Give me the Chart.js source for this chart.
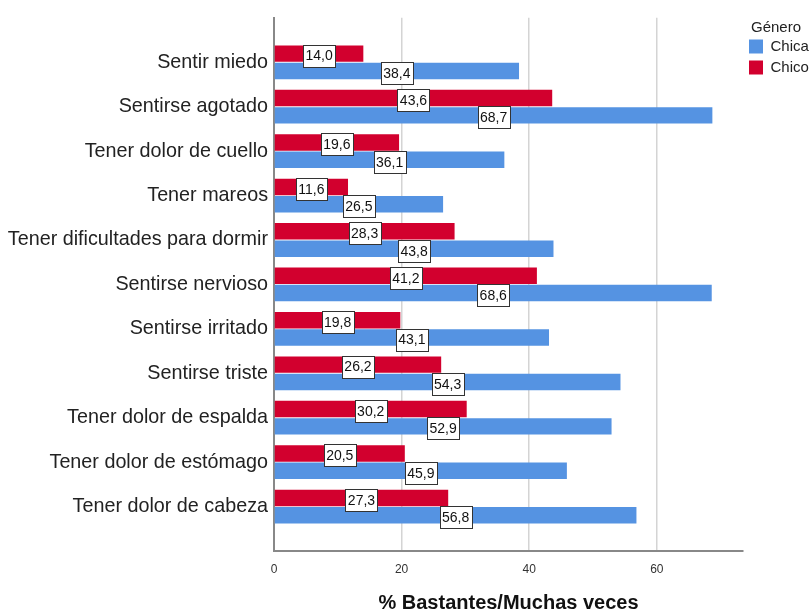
<!DOCTYPE html>
<html>
<head>
<meta charset="utf-8">
<script src="https://cdn.jsdelivr.net/npm/chart.js@4/dist/chart.umd.min.js"></script>
<style>
  body { margin: 0; background: #fff; }
  #wrap { width: 809px; height: 613px; }
</style>
</head>
<body>
<div id="wrap"><canvas id="myChart"></canvas></div>
<script>
const itemLabels = ['Sentir miedo', 'Sentirse agotado', 'Tener dolor de cuello', 'Tener mareos',
    'Tener dificultades para dormir', 'Sentirse nervioso', 'Sentirse irritado', 'Sentirse triste',
    'Tener dolor de espalda', 'Tener dolor de estómago', 'Tener dolor de cabeza']
const chicoValues = [14.0, 43.6, 19.6, 11.6, 28.3, 41.2, 19.8, 26.2, 30.2, 20.5, 27.3]
const chicaValues = [38.4, 68.7, 36.1, 26.5, 43.8, 68.6, 43.1, 54.3, 52.9, 45.9, 56.8]
const xTicks = [0, 20, 40, 60]

const FONT = "'Liberation Sans', Arial, sans-serif"

// white boxes with the value, centred on each bar
const valueBoxes = {
    id: 'valueBoxes',
    afterDatasetsDraw(chart) {
        const ctx = chart.ctx
        ctx.save()
        ctx.font = '14px ' + FONT
        ctx.textAlign = 'center'
        ctx.textBaseline = 'middle'
        chart.data.datasets.forEach((ds, di) => {
            chart.getDatasetMeta(di).data.forEach((bar, i) => {
                const txt = ds.data[i].x.toFixed(1).replace('.', ',')
                const w = Math.round(ctx.measureText(txt).width + 5)
                const h = 22
                const cx = (bar.base + bar.x) / 2
                const cy = bar.y + 2
                const x0 = Math.round(cx - w / 2) + 0.5
                const y0 = Math.round(cy - h / 2) + 0.5
                ctx.fillStyle = '#ffffff'
                ctx.fillRect(x0, y0, w, h)
                ctx.strokeStyle = '#333333'
                ctx.lineWidth = 1
                ctx.strokeRect(x0, y0, w, h)
                ctx.fillStyle = '#111111'
                ctx.fillText(txt, cx, cy + 1)
            })
        })
        ctx.restore()
    }
}

function drawChart() {
    const ctx = document.getElementById('myChart')

    const data = {
        datasets: [{
            label: 'Chico',
            data: chicoValues.map((v, i) => ({x: v, y: i})),
            backgroundColor: '#d2002e',
            borderWidth: 0,
            categoryPercentage: 0.78,
            barPercentage: 0.95
        }, {
            label: 'Chica',
            data: chicaValues.map((v, i) => ({x: v, y: i})),
            backgroundColor: '#5593e2',
            borderWidth: 0,
            categoryPercentage: 0.78,
            barPercentage: 0.95
        }]
    }

    const config = {
        type: 'bar',
        data: data,
        plugins: [valueBoxes],
        options: {
            indexAxis: 'y',
            responsive: true,
            maintainAspectRatio: false,
            animation: false,
            layout: {padding: {top: 14, left: 0, right: 0, bottom: 0}},
            plugins: {
                tooltip: {enabled: false},
                legend: {
                    position: 'right',
                    align: 'start',
                    reverse: true,
                    maxWidth: 66,
                    title: {display: true, text: 'Género', color: '#222',
                        font: {family: FONT, size: 15, lineHeight: 1}, padding: {top: 6, bottom: -2}},
                    labels: {boxWidth: 14, boxHeight: 14, padding: 6, color: '#222', font: {family: FONT, size: 15}}
                }
            },
            scales: {
                x: {
                    type: 'linear',
                    min: 0,
                    max: 73.5,
                    afterBuildTicks: (s) => { s.ticks = xTicks.map(v => ({value: v})) },
                    afterFit: (s) => { s.height = 62 },
                    grid: {color: '#d4d4d4', lineWidth: 1.5, drawTicks: false},
                    border: {display: true, color: '#888', width: 2},
                    ticks: {color: '#333', font: {family: FONT, size: 12}, padding: 11},
                    title: {display: true, text: '% Bastantes/Muchas veces', color: '#111',
                        font: {family: FONT, size: 20, weight: 'bold', lineHeight: 1}, padding: {top: 14, bottom: 0}}
                },
                y: {
                    type: 'linear',
                    min: -1,
                    max: 11,
                    offset: false,
                    reverse: true,
                    afterBuildTicks: (s) => { s.ticks = itemLabels.map((l, i) => ({value: i})) },
                    afterFit: (s) => { s.width = 274 },
                    grid: {display: false, drawTicks: false},
                    border: {display: true, color: '#888', width: 2},
                    ticks: {
                        color: '#222',
                        font: {family: FONT, size: 19.75},
                        padding: 6,
                        callback: (v) => itemLabels[v]
                    }
                }
            }
        }
    }

    new Chart(ctx, config)
}

document.addEventListener('DOMContentLoaded', drawChart)
</script>
</body>
</html>
